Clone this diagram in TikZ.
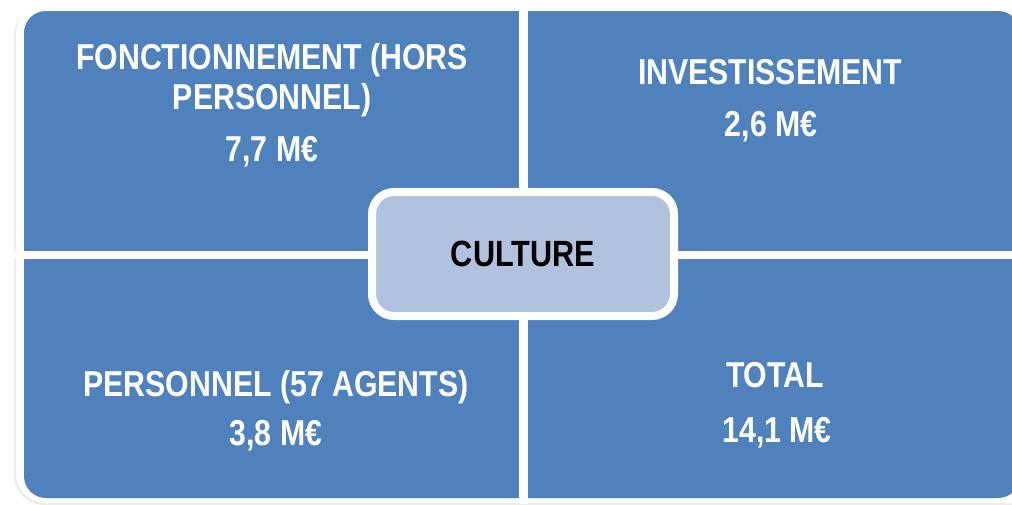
\documentclass[tikz,border=0pt]{standalone}
\usepackage{fontspec}
\setmainfont{Liberation Sans}[FakeStretch=0.84]
\usetikzlibrary{shadows}

\definecolor{quadblue}{HTML}{4F81BD}
\definecolor{coreblue}{HTML}{B0C2DE}

\tikzset{
  quadtext/.style={text=white, font=\bfseries\fontsize{36}{40}\selectfont, inner sep=0pt, anchor=base},
  corebox/.style={fill=coreblue, draw=white, line width=8pt, rounded corners=22pt,
    minimum width=302pt, minimum height=124pt, inner sep=0pt,
    font=\bfseries\fontsize{36.5}{40}\selectfont,
    drop shadow={opacity=0.3, shadow xshift=2pt, shadow yshift=-3pt}},
}

\begin{document}
\begin{tikzpicture}[x=1pt, y=-1pt]
  \useasboundingbox (0,0) rectangle (1012,504);
  \clip (0,0) rectangle (1012,504);

  % white frame behind the four blocks
  \fill[white, rounded corners=30pt,
    drop shadow={opacity=0.15, shadow xshift=-2pt, shadow yshift=-2pt}]
    (16,4) rectangle (1040,503);

  % the four blocks, cut apart by white gaps
  \fill[quadblue, rounded corners=22pt] (24,11) rectangle (1020,498);
  \fill[white] (519,0) rectangle (528,504);
  \fill[white] (0,251) rectangle (1040,259);

  % top left
  \node[quadtext] (fonct1) at (272,69) {FONCTIONNEMENT (HORS};
  \node[quadtext] (fonct2) at (272,109) {PERSONNEL)};
  \node[quadtext] (fonctval) at (272,161) {7,7 M€};

  % top right
  \node[quadtext] (invest) at (770,84) {INVESTISSEMENT};
  \node[quadtext] (investval) at (771,136) {2,6 M€};

  % bottom left
  \node[quadtext] (perso) at (276,396) {PERSONNEL (57 AGENTS)};
  \node[quadtext] (persoval) at (276,445) {3,8 M€};

  % bottom right
  \node[quadtext] (total) at (775,387) {TOTAL};
  \node[quadtext] (totalval) at (777,442) {14,1 M€};

  % centre
  \node[corebox] (culture) at (523,254) {CULTURE};
\end{tikzpicture}
\end{document}
